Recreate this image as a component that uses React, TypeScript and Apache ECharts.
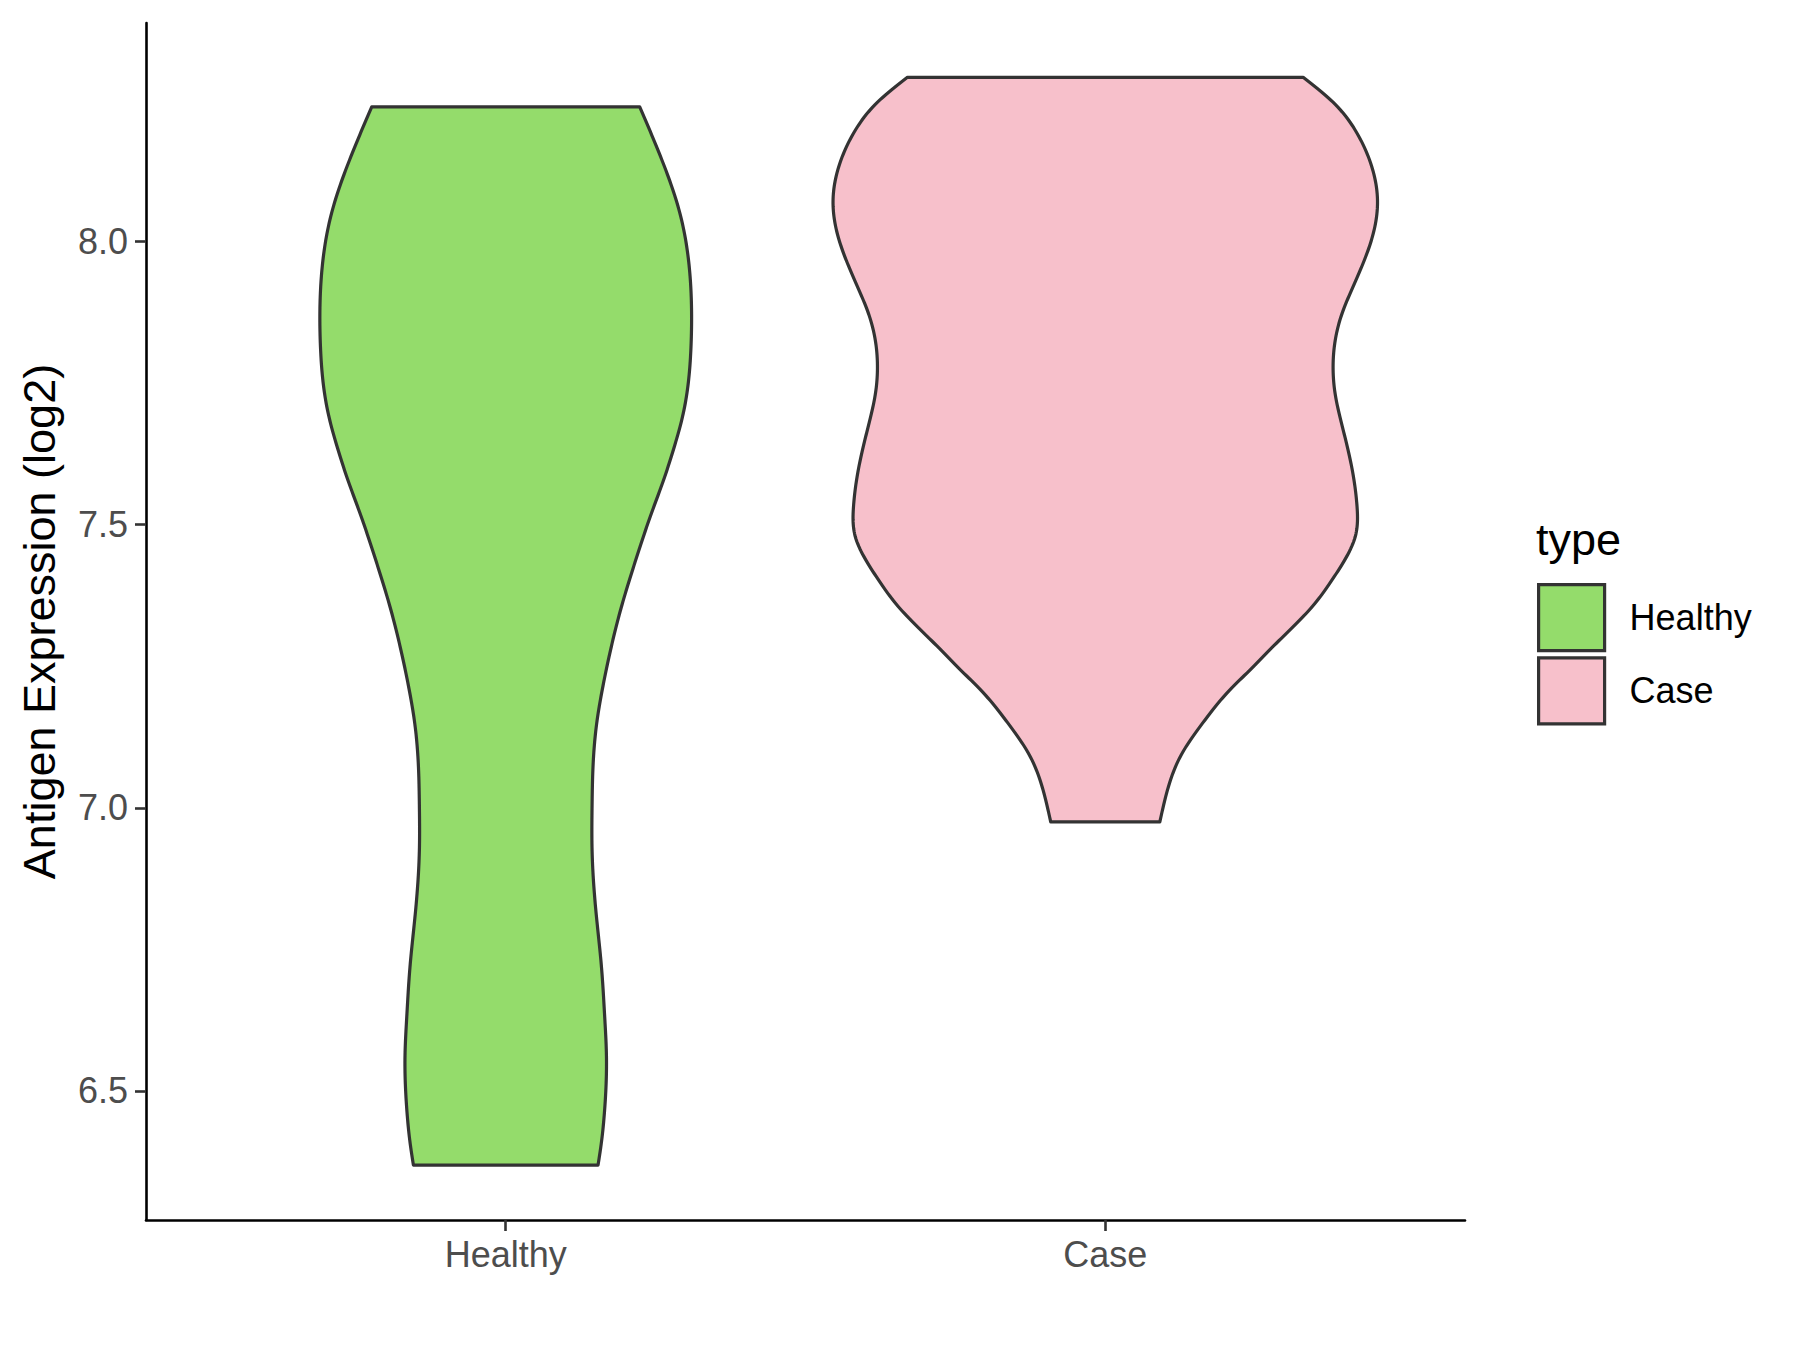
import React, { useEffect, useRef } from 'react';
import * as echarts from 'echarts';

const categories = ['Healthy', 'Case'];
const fillColors = ['#94DC6B', '#F7C0CB'];
const yTicks = [6.5, 7.0, 7.5, 8.0];
const xTicks = [1, 2];

// Violin outlines: expression value and half-width (in category units)
const healthyValues = [8.238, 8.140, 8.052, 7.975, 7.931, 7.872, 7.814, 7.755, 7.696, 7.637, 7.578, 7.520, 7.461, 7.408, 7.355, 7.284, 7.214, 7.143, 7.073, 7.002, 6.926, 6.808, 6.720, 6.632, 6.561, 6.467, 6.409, 6.369];
const healthyHalfWidths = [0.2235, 0.262, 0.290, 0.304, 0.308, 0.310, 0.309, 0.305, 0.296, 0.281, 0.263, 0.243, 0.224, 0.208, 0.193, 0.176, 0.162, 0.151, 0.1456, 0.144, 0.144, 0.1513, 0.1596, 0.165, 0.168, 0.165, 0.1596, 0.154];
const caseValues = [8.290, 8.246, 8.193, 8.134, 8.075, 8.028, 7.975, 7.922, 7.870, 7.822, 7.781, 7.734, 7.675, 7.602, 7.531, 7.479, 7.437, 7.402, 7.355, 7.314, 7.279, 7.243, 7.208, 7.149, 7.096, 7.036, 6.975];
const caseHalfWidths = [0.330, 0.380, 0.419, 0.444, 0.454, 0.450, 0.435, 0.414, 0.394, 0.383, 0.380, 0.383, 0.395, 0.411, 0.420, 0.417, 0.399, 0.378, 0.345, 0.3078, 0.2744, 0.241, 0.2077, 0.162, 0.128, 0.105, 0.091];

const yMin = 6.272;
const yMax = 8.386;
const FONT = '"Liberation Sans", Arial, Helvetica, sans-serif';

// Natural cubic spline through the read points (half-width as a function of value)
function naturalSpline(xsIn: number[], ysIn: number[]) {
  const idx = xsIn.map((_, i) => i).sort((a, b) => xsIn[a] - xsIn[b]);
  const xs = idx.map((i) => xsIn[i]);
  const ys = idx.map((i) => ysIn[i]);
  const n = xs.length;
  const h: number[] = [];
  for (let i = 0; i < n - 1; i++) h.push(xs[i + 1] - xs[i]);
  const a: number[] = new Array(n).fill(0);
  const b: number[] = new Array(n).fill(1);
  const c: number[] = new Array(n).fill(0);
  const d: number[] = new Array(n).fill(0);
  for (let i = 1; i < n - 1; i++) {
    a[i] = h[i - 1];
    b[i] = 2 * (h[i - 1] + h[i]);
    c[i] = h[i];
    d[i] = 6 * ((ys[i + 1] - ys[i]) / h[i] - (ys[i] - ys[i - 1]) / h[i - 1]);
  }
  const cp = new Array(n).fill(0);
  const dp = new Array(n).fill(0);
  cp[0] = c[0] / b[0];
  dp[0] = d[0] / b[0];
  for (let i = 1; i < n; i++) {
    const m = b[i] - a[i] * cp[i - 1];
    cp[i] = c[i] / m;
    dp[i] = (d[i] - a[i] * dp[i - 1]) / m;
  }
  const M = new Array(n).fill(0);
  M[n - 1] = dp[n - 1];
  for (let i = n - 2; i >= 0; i--) M[i] = dp[i] - cp[i] * M[i + 1];
  return (x: number) => {
    let k = 0;
    while (k < n - 2 && x > xs[k + 1]) k++;
    const hk = h[k];
    const t1 = xs[k + 1] - x;
    const t0 = x - xs[k];
    return (
      (M[k] * t1 * t1 * t1) / (6 * hk) +
      (M[k + 1] * t0 * t0 * t0) / (6 * hk) +
      (ys[k] / hk - (M[k] * hk) / 6) * t1 +
      (ys[k + 1] / hk - (M[k + 1] * hk) / 6) * t0
    );
  };
}

function makeRenderItem(values: number[], hws: number[]) {
  const f = naturalSpline(values, hws);
  const top = Math.max(...values);
  const bottom = Math.min(...values);
  const N = 300;
  return (params: any, api: any) => {
    const cx = api.value(0);
    const right: number[][] = [];
    const left: number[][] = [];
    for (let i = 0; i <= N; i++) {
      const v = top - ((top - bottom) * i) / N;
      const w = f(v);
      right.push(api.coord([cx + w, v]));
      left.push(api.coord([cx - w, v]));
    }
    const pts = right.concat(left.reverse());
    return {
      type: 'polygon',
      shape: { points: pts },
      style: { fill: api.visual('color'), stroke: '#333333', lineWidth: 3.2, lineJoin: 'round' },
    };
  };
}

export default function App() {
  const ref = useRef<HTMLDivElement>(null);
  useEffect(() => {
    if (!ref.current) return;
    const chart = echarts.init(ref.current, undefined, { renderer: 'svg' });
    const option: any = {
      animation: false,
      backgroundColor: '#ffffff',
      grid: { left: 146, right: 335, top: 23, bottom: 130 },
      title: {
        text: 'type',
        left: 1531,
        top: 512,
        textStyle: { fontFamily: FONT, fontSize: 45, fontWeight: 'normal', color: '#000000' },
      },
      legend: {
        orient: 'vertical',
        left: 1532,
        top: 578,
        itemWidth: 66,
        itemHeight: 66,
        itemGap: 4,
        icon: 'rect',
        textStyle: { fontFamily: FONT, fontSize: 36, color: '#000000', padding: [0, 0, 0, 20] },
        data: categories.map((c, i) => ({
          name: c,
          icon: 'rect',
          itemStyle: { color: fillColors[i], borderColor: '#333333', borderWidth: 3.2 },
        })),
      },
      xAxis: {
        type: 'value',
        min: 0.4,
        max: 2.6,
        splitLine: { show: false },
        axisLine: { show: true, onZero: false, lineStyle: { color: '#000000', width: 2.6 } },
        axisTick: { show: true, length: 11, customValues: xTicks, lineStyle: { color: '#333333', width: 2.6 } },
        axisLabel: {
          customValues: xTicks,
          formatter: (v: number) => categories[Math.round(v) - 1] ?? '',
          fontFamily: FONT,
          fontSize: 36,
          color: '#4D4D4D',
          margin: 16,
        },
      },
      yAxis: {
        type: 'value',
        min: yMin,
        max: yMax,
        name: 'Antigen Expression (log2)',
        nameLocation: 'middle',
        nameGap: 84,
        nameTextStyle: { fontFamily: FONT, fontSize: 45, color: '#000000' },
        splitLine: { show: false },
        axisLine: { show: true, onZero: false, lineStyle: { color: '#000000', width: 2.6 } },
        axisTick: { show: true, length: 11, customValues: yTicks, lineStyle: { color: '#333333', width: 2.6 } },
        axisLabel: {
          customValues: yTicks,
          formatter: (v: number) => v.toFixed(1),
          fontFamily: FONT,
          fontSize: 36,
          color: '#4D4D4D',
          margin: 18,
        },
      },
      series: [
        {
          name: categories[0],
          type: 'custom',
          renderItem: makeRenderItem(healthyValues, healthyHalfWidths),
          itemStyle: { color: fillColors[0], borderColor: '#333333', borderWidth: 3.2 },
          encode: { x: 0, y: 1 },
          data: [[1, healthyValues[0]]],
        },
        {
          name: categories[1],
          type: 'custom',
          renderItem: makeRenderItem(caseValues, caseHalfWidths),
          itemStyle: { color: fillColors[1], borderColor: '#333333', borderWidth: 3.2 },
          encode: { x: 0, y: 1 },
          data: [[2, caseValues[0]]],
        },
      ],
    };
    chart.setOption(option);
    return () => chart.dispose();
  }, []);
  return (
    <div
      ref={ref}
      style={{ position: 'fixed', left: 0, top: 0, width: 1800, height: 1350, background: '#fff' }}
    />
  );
}
